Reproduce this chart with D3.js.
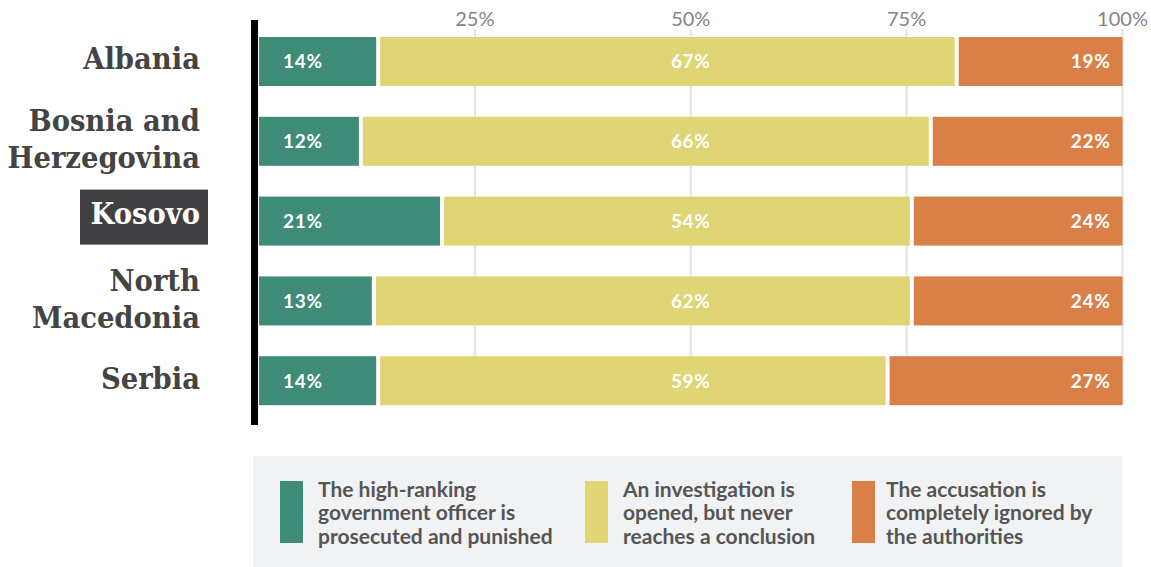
<!DOCTYPE html>
<html>
<head>
<meta charset="utf-8">
<script src="https://cdn.jsdelivr.net/npm/d3@7"></script>
<style>
  html, body { margin: 0; padding: 0; background: #fff; }
  svg { display: block; }
  .country { font-family: "DejaVu Serif", serif; font-weight: bold; font-stretch: condensed; }
  .tick-label { font-family: Lato, sans-serif; }
  .val { font-family: Lato, sans-serif; font-weight: bold; letter-spacing: 0.7px; }
  .legend-text { font-family: Lato, sans-serif; font-weight: bold; }
</style>
</head>
<body>
<div id="chart"></div>
<script>
// Countries, each split into the lines it is printed on
const categories = ["Albania", "Bosnia and Herzegovina", "Kosovo", "North Macedonia", "Serbia"];
const categoryLines = [["Albania"], ["Bosnia and", "Herzegovina"], ["Kosovo"], ["North", "Macedonia"], ["Serbia"]];
const highlighted = "Kosovo";

// Shares of respondents (%) per outcome
const prosecuted = [13.8, 11.8, 21.2, 13.3, 13.8];
const unresolved = [67.0, 66.0, 54.4, 62.3, 59.0];
const ignored    = [19.2, 22.2, 24.4, 24.4, 27.2];

const seriesKeys = ["prosecuted", "unresolved", "ignored"];
const seriesLabels = [
  ["The high-ranking", "government officer is", "prosecuted and punished"],
  ["An investigation is", "opened, but never", "reaches a conclusion"],
  ["The accusation is", "completely ignored by", "the authorities"]
];
const seriesColors = ["#3e8c77", "#e0d574", "#d98048"];

const tickValues = [25, 50, 75, 100];
const tickLabels = ["25%", "50%", "75%", "100%"];

const W = 1151, H = 567;

const rows = categories.map((c, i) => ({
  country: c,
  lines: categoryLines[i],
  prosecuted: prosecuted[i],
  unresolved: unresolved[i],
  ignored: ignored[i]
}));

const stacked = d3.stack().keys(seriesKeys)(rows);

const x = d3.scaleLinear().domain([0, 100]).range([259, 1122.5]);
const y = d3.scaleBand().domain(categories).range([37, 405.2]).paddingInner(0.386).paddingOuter(0);
const color = d3.scaleOrdinal().domain(seriesKeys).range(seriesColors);

const svg = d3.select("#chart").append("svg")
  .attr("width", W).attr("height", H);

// Vertical gridlines
svg.append("g").selectAll("line")
  .data(tickValues)
  .join("line")
  .attr("x1", d => x(d)).attr("x2", d => x(d))
  .attr("y1", 29).attr("y2", 405)
  .attr("stroke", "#e3e3e3").attr("stroke-width", 2);

// Top axis labels
svg.append("g").selectAll("text")
  .data(tickValues)
  .join("text")
  .attr("class", "tick-label")
  .attr("x", d => x(d))
  .attr("y", 26)
  .attr("text-anchor", "middle")
  .attr("font-size", 20)
  .attr("fill", "#858585")
  .text((d, i) => tickLabels[i]);

// Stacked bar segments, separated by a small white gap
const gap = 2;
const layers = svg.append("g").selectAll("g")
  .data(stacked)
  .join("g")
  .attr("fill", d => color(d.key));

layers.selectAll("rect")
  .data(d => d.map(p => ({ p, idx: d.index })))
  .join("rect")
  .attr("x", d => x(d.p[0]) + (d.idx > 0 ? gap : 0))
  .attr("y", d => y(d.p.data.country))
  .attr("width", d => x(d.p[1]) - x(d.p[0]) - (d.idx > 0 ? gap : 0) - (d.idx < seriesKeys.length - 1 ? gap : 0))
  .attr("height", y.bandwidth());

// Value labels inside the bars
const fmt = v => Math.round(v) + "%";
const valG = svg.append("g");
rows.forEach(r => {
  const cy = y(r.country) + y.bandwidth() / 2 + 7;
  valG.append("text").attr("class", "val")
    .attr("x", x(0) + 24).attr("y", cy)
    .attr("font-size", 19).attr("fill", "#fff")
    .text(fmt(r.prosecuted));
  valG.append("text").attr("class", "val")
    .attr("x", x(50)).attr("y", cy)
    .attr("text-anchor", "middle")
    .attr("font-size", 19).attr("fill", "#fff")
    .text(fmt(r.unresolved));
  valG.append("text").attr("class", "val")
    .attr("x", x(100) - 12).attr("y", cy)
    .attr("text-anchor", "end")
    .attr("font-size", 19).attr("fill", "#fff")
    .text(fmt(r.ignored));
});

// Country labels, the highlighted one on a dark box
const labG = svg.append("g");
rows.forEach(r => {
  const cy = y(r.country) + y.bandwidth() / 2;
  const isHi = r.country === highlighted;
  const n = r.lines.length;
  if (isHi) {
    labG.append("rect")
      .attr("x", 80).attr("y", cy - 31.5)
      .attr("width", 128).attr("height", 55)
      .attr("fill", "#404042");
  }
  const t = labG.append("text").attr("class", "country")
    .attr("text-anchor", "end")
    .attr("font-size", 30.5)
    .attr("fill", isHi ? "#fff" : "#444");
  r.lines.forEach((ln, i) => {
    let base;
    if (isHi) base = cy + 3;
    else if (n > 1) base = cy - 10 + i * 37;
    else base = cy + 8;
    t.append("tspan").attr("x", 200).attr("y", base).text(ln);
  });
});

// Axis line on the left
svg.append("line")
  .attr("x1", 254.5).attr("x2", 254.5)
  .attr("y1", 20).attr("y2", 425)
  .attr("stroke", "#000").attr("stroke-width", 7);

// Legend
const lg = svg.append("g");
lg.append("rect")
  .attr("x", 253).attr("y", 456)
  .attr("width", 1122.5 - 253).attr("height", 111)
  .attr("fill", "#f1f2f4");

const legendX = [280, 585, 852];
seriesKeys.forEach((k, i) => {
  lg.append("rect")
    .attr("x", legendX[i]).attr("y", 481)
    .attr("width", 23).attr("height", 62)
    .attr("fill", color(k));
  const t = lg.append("text").attr("class", "legend-text")
    .attr("font-size", 21).attr("fill", "#555");
  seriesLabels[i].forEach((ln, j) => {
    t.append("tspan")
      .attr("x", legendX[i] + 38 - (i === 2 ? 4 : 0))
      .attr("y", 496.5 + j * 23.5)
      .text(ln);
  });
});
</script>
</body>
</html>
